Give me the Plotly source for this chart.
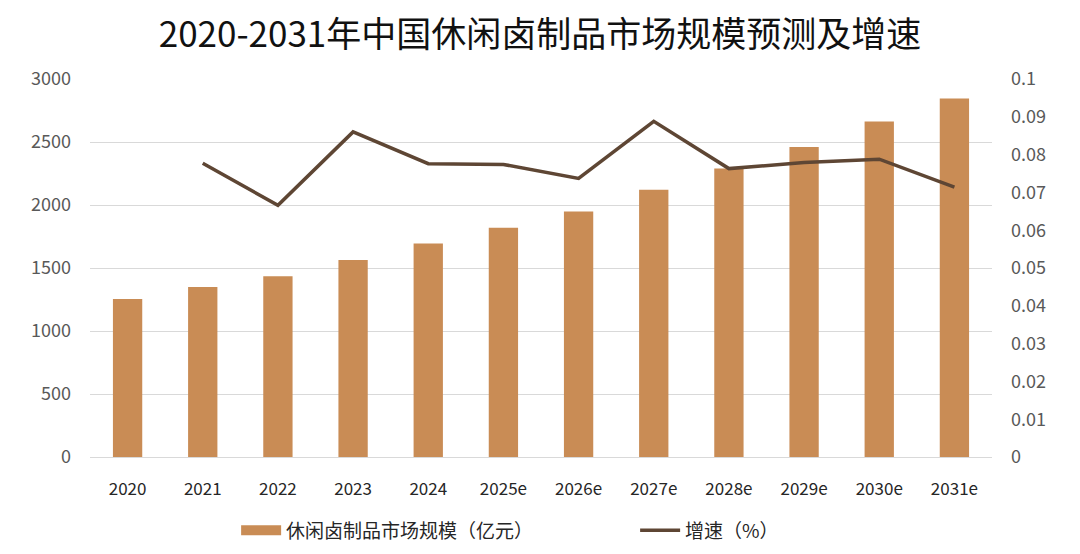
import plotly.graph_objects as go

years = ["2020", "2021", "2022", "2023", "2024", "2025e", "2026e", "2027e", "2028e", "2029e", "2030e", "2031e"]
market_size = [1253, 1349, 1434, 1564, 1694, 1819, 1949, 2122, 2289, 2461, 2663, 2846]
growth = [None, 0.0777, 0.0666, 0.0860, 0.0776, 0.0774, 0.0737, 0.0888, 0.0763, 0.0779, 0.0788, 0.0714]

title_text = "2020-2031年中国休闲卤制品市场规模预测及增速"
bar_name = "休闲卤制品市场规模（亿元）"
line_name = "增速（%）"

FONT = "Noto Sans CJK SC"
TICK_COLOR = "#595959"
BAR_COLOR = "#C98C55"
LINE_COLOR = "#5E4634"

fig = go.Figure()
fig.add_trace(go.Bar(
    x=years, y=market_size, name=bar_name,
    marker=dict(color=BAR_COLOR, line=dict(width=0)),
    yaxis="y", showlegend=False,
))
# legend-only entry giving the wide rectangular swatch of the bar series
fig.add_trace(go.Scatter(
    x=[None], y=[None], name=bar_name, mode="lines",
    line=dict(color=BAR_COLOR, width=12), yaxis="y",
))
fig.add_trace(go.Scatter(
    x=years, y=growth, name=line_name, mode="lines",
    line=dict(color=LINE_COLOR, width=3.5),
    yaxis="y2",
))

fig.update_layout(
    width=1080, height=554,
    margin=dict(l=90, r=88, t=79, b=97, autoexpand=False),
    paper_bgcolor="white", plot_bgcolor="white",
    font=dict(family=FONT, color=TICK_COLOR, size=18),
    title=dict(text=title_text, x=0.5, xanchor="center", y=0.937, yanchor="middle",
               font=dict(family=FONT, size=35, color="#111111")),
    bargap=0.61,
    showlegend=True,
    legend=dict(orientation="h", x=0.162, xanchor="left", y=-0.194, yanchor="middle",
                font=dict(family=FONT, size=19, color="#262626"),
                traceorder="normal", entrywidth=344, itemwidth=40),
    xaxis=dict(type="category", showgrid=False, showline=False, ticks="",
               tickfont=dict(size=17, color="#262626"), ticklabelstandoff=20),
    yaxis=dict(range=[0, 3000], dtick=500, showgrid=True, gridcolor="#D9D9D9", gridwidth=1,
               zeroline=True, zerolinecolor="#D9D9D9", zerolinewidth=1,
               showline=False, ticks="", tickfont=dict(size=18, color=TICK_COLOR),
               ticklabelstandoff=18),
    yaxis2=dict(range=[0, 0.1], dtick=0.01, overlaying="y", side="right",
                showgrid=False, zeroline=False, showline=False, ticks="",
                tickfont=dict(size=18, color=TICK_COLOR), ticklabelstandoff=18),
)

fig.write_html("out.html")
